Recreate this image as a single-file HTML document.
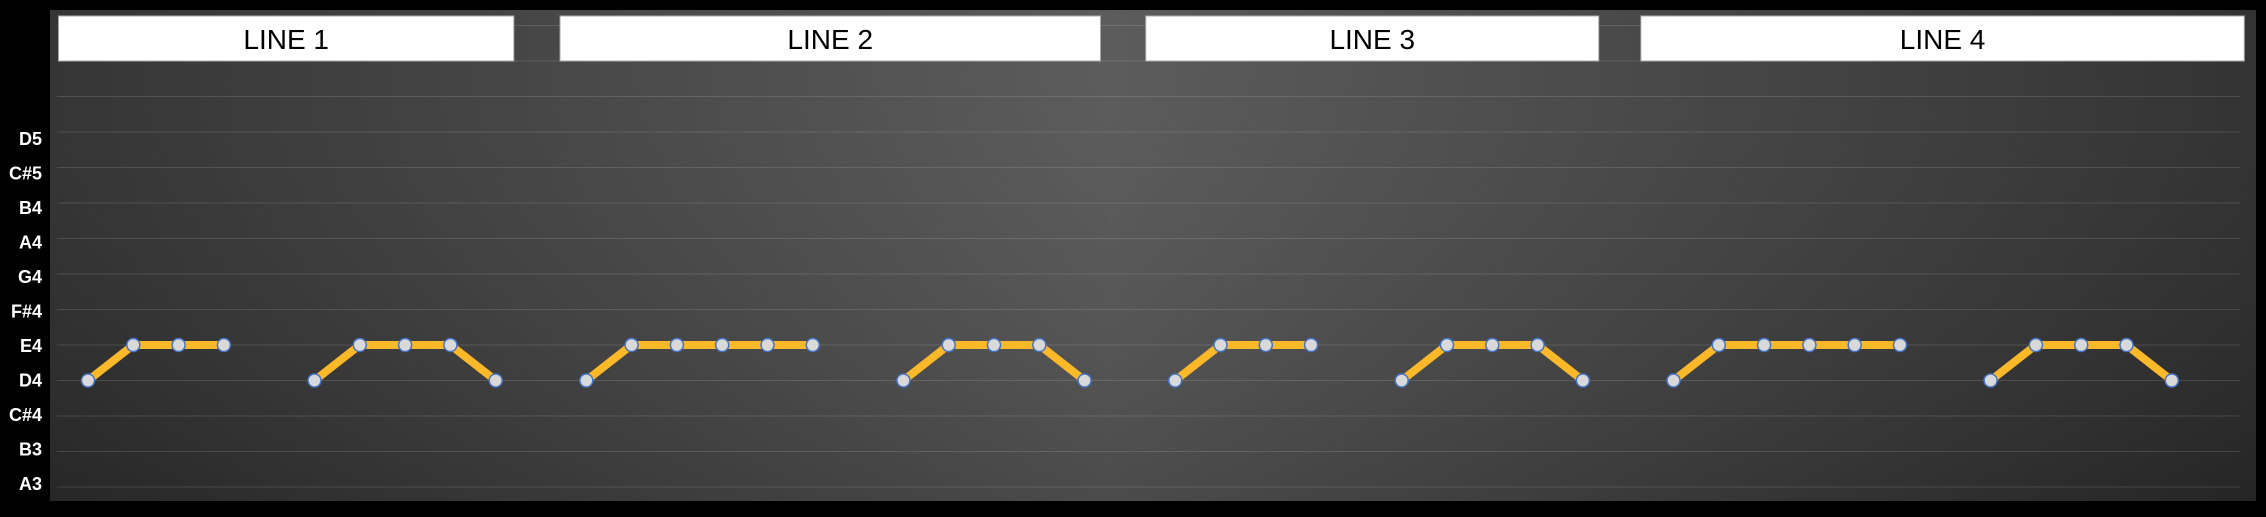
<!DOCTYPE html>
<html><head><meta charset="utf-8"><style>
html,body{margin:0;padding:0;background:#000;}
body{width:2266px;height:512px;overflow:hidden;font-family:"Liberation Sans",sans-serif;}
</style></head><body>
<svg id="chart" width="2266" height="512" xmlns="http://www.w3.org/2000/svg">
<defs>
<linearGradient id="bgh" x1="0" y1="0" x2="1" y2="0">
<stop offset="0" stop-color="#2c2c2c"/><stop offset="0.48" stop-color="#555555"/><stop offset="1" stop-color="#2a2a2a"/>
</linearGradient>
<linearGradient id="bgv" x1="0" y1="0" x2="0" y2="1">
<stop offset="0" stop-color="#ffffff" stop-opacity="0.04"/><stop offset="1" stop-color="#000000" stop-opacity="0.12"/>
</linearGradient>
</defs>
<rect x="50" y="10" width="2206" height="491" fill="url(#bgh)"/>
<rect x="50" y="10" width="2206" height="491" fill="url(#bgv)"/>
<g id="grid"></g><g id="labels"></g><g id="headers"></g><g id="series"></g>
</svg>
<script>
const noteLabels = ["A3","B3","C#4","D4","E4","F#4","G4","A4","B4","C#5","D5"];
const groupStarts = [0,5,11,18,24,29,35,42];
const groupNotes = [
 ["D4","E4","E4","E4"],
 ["D4","E4","E4","E4","D4"],
 ["D4","E4","E4","E4","E4","E4"],
 ["D4","E4","E4","E4","D4"],
 ["D4","E4","E4","E4"],
 ["D4","E4","E4","E4","D4"],
 ["D4","E4","E4","E4","E4","E4"],
 ["D4","E4","E4","E4","D4"]
];
const headerTitles = ["LINE 1","LINE 2","LINE 3","LINE 4"];
const headerSpans = [[-0.65,9.4],[10.42,22.35],[23.35,33.35],[34.28,47.6]];

const NS="http://www.w3.org/2000/svg";
function yOf(idx){return 487-idx*35.5;}
function xOf(i){return 88+i*45.3;}
function mk(tag,attrs,parent){const e=document.createElementNS(NS,tag);for(const k in attrs)e.setAttribute(k,attrs[k]);parent.appendChild(e);return e;}
const grid=document.getElementById('grid'),labels=document.getElementById('labels'),headers=document.getElementById('headers'),series=document.getElementById('series');
for(let k=0;k<=13;k++){
 const l=mk('line',{x1:57,x2:2240,y1:yOf(k),y2:yOf(k),stroke:'#ffffff','stroke-opacity':0.13,'stroke-width':1},grid);
 
 
}
noteLabels.forEach((n,k)=>{
 const t=mk('text',{x:42,y:484-k*34.5+6,'text-anchor':'end',fill:'#fff','font-size':18,'font-weight':'bold'},labels);
 t.textContent=n;
 
 
});
headerTitles.forEach((h,i)=>{
 const x1=xOf(headerSpans[i][0]),x2=xOf(headerSpans[i][1]);
 const r=mk('rect',{x:x1,y:16,width:x2-x1,height:45,fill:'#fff',stroke:'#aaa','stroke-width':1},headers);
 
 
 const t=mk('text',{x:(x1+x2)/2,y:49,'text-anchor':'middle',fill:'#000','font-size':28},headers);
 t.textContent=h;
 
 
});
groupNotes.forEach((g,gi)=>{
 const pts=g.map((n,j)=>[xOf(groupStarts[gi]+j),yOf(noteLabels.indexOf(n))]);
 const p=mk('polyline',{points:pts.map(p=>p.join(',')).join(' '),fill:'none',stroke:'#fbb829','stroke-width':8,'stroke-linejoin':'round'},series);
 
 
 pts.forEach(pt=>{
  const c=mk('circle',{cx:pt[0],cy:pt[1],r:6.5,fill:'#d9d9d9',stroke:'#4472c4','stroke-width':1.5},series);
  
  
 });
});
</script>
</body></html>
